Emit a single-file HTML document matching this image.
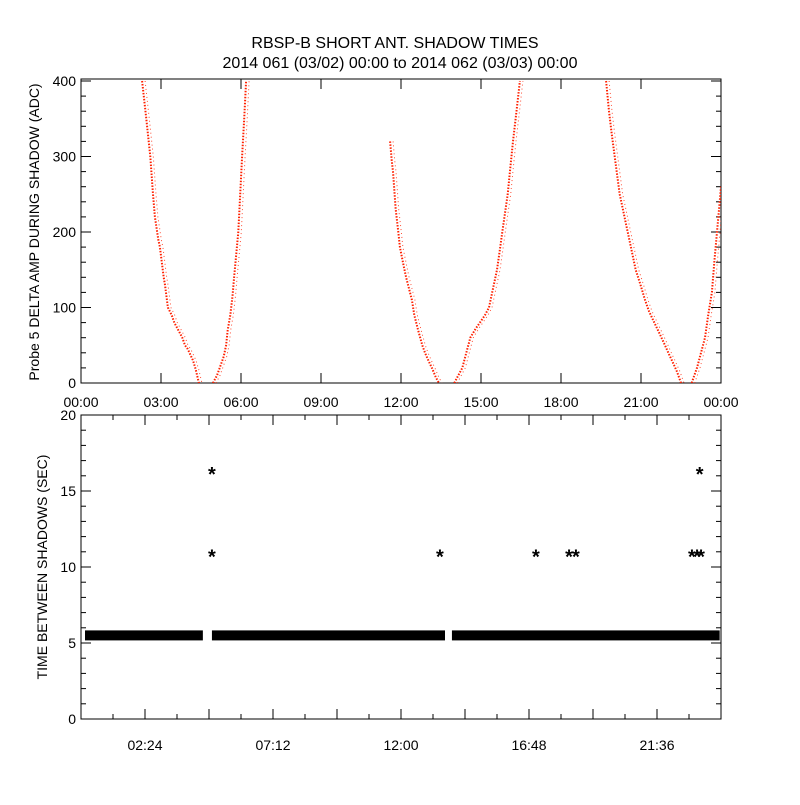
<!DOCTYPE html>
<html><head><meta charset="utf-8"><style>
body{margin:0;background:#fff}
svg text{font-family:"Liberation Sans",sans-serif;fill:#000}
</style></head><body>
<svg id="c" width="800" height="800" xmlns="http://www.w3.org/2000/svg">
<text x="395" y="48" font-size="16" text-anchor="middle">RBSP-B SHORT ANT. SHADOW TIMES</text>
<text x="400" y="68" font-size="16" text-anchor="middle">2014 061 (03/02) 00:00 to 2014 062 (03/03) 00:00</text>
<g id="topg"></g>
<g id="botg"></g>
</svg>
<script>
// Top panel data: [hour, ADC value] along each shadow branch
const arc1Down=[[2.29,400],[2.45,350],[2.6,300],[2.7,250],[2.77,220],[2.9,190],[2.96,180],[3.1,140],[3.15,130],[3.26,100],[3.4,90],[3.5,80],[3.65,70],[3.8,60],[3.9,50],[4.0,45],[4.2,30],[4.3,18],[4.42,0]];
const arc1Up=[[4.95,0],[5.1,10],[5.2,20],[5.35,35],[5.44,50],[5.5,70],[5.6,90],[5.68,115],[5.74,140],[5.82,170],[5.9,200],[5.97,250],[6.04,300],[6.12,350],[6.19,400]];
const arc2Down=[[11.59,320],[11.65,295],[11.7,280],[11.8,230],[11.9,200],[11.96,180],[12.1,155],[12.19,140],[12.3,125],[12.41,110],[12.5,90],[12.64,70],[12.8,50],[12.9,40],[13.05,28],[13.16,20],[13.3,8],[13.42,0]];
const arc2Up=[[14.0,0],[14.15,10],[14.3,20],[14.45,40],[14.6,60],[14.8,72],[14.96,80],[15.15,90],[15.3,100],[15.45,125],[15.6,150],[15.7,175],[15.8,200],[15.9,225],[16.0,250],[16.1,285],[16.2,320],[16.33,360],[16.46,400]];
const arc3Down=[[19.69,400],[19.8,360],[19.9,330],[20.05,290],[20.2,250],[20.35,225],[20.5,200],[20.65,175],[20.8,150],[21.0,128],[21.15,110],[21.3,95],[21.5,80],[21.7,65],[21.9,50],[22.05,38],[22.16,30],[22.35,15],[22.5,0]];
const arc3Up=[[22.9,0],[23.0,10],[23.1,20],[23.25,40],[23.4,60],[23.52,90],[23.66,120],[23.75,160],[23.85,200],[23.95,240],[24.0,260]];
const topXTicks=["00:00","03:00","06:00","09:00","12:00","15:00","18:00","21:00","00:00"];
const topYTicks=[0,100,200,300,400];
// Bottom panel data
const bandSegments=[[0.15,4.57],[4.91,13.65],[13.91,23.95]];
const bandValue=5.5;
const outlierHours=[4.91,4.91,13.46,17.06,18.3,18.56,22.91,23.1,23.25,23.2];
const outlierValues=[10.9,16.3,10.9,10.9,10.9,10.9,10.9,10.9,10.9,16.3];
const botXTicks=["02:24","07:12","12:00","16:48","21:36"];
const botYTicks=[0,5,10,15,20];

const NS="http://www.w3.org/2000/svg";
function mk(p,t,a){const e=document.createElementNS(NS,t);for(const k in a)e.setAttribute(k,a[k]);p.appendChild(e);return e;}
const X0=81,X1=721;
const xs=h=>X0+h/24*(X1-X0);
const T0=79,B0=383,yT=v=>383-v*(302/400);
const T1=415,B1=719,yB=v=>B1-v*(B1-T1)/20;
const topG=document.getElementById('topg'),botG=document.getElementById('botg');

let fr=mk(topG,'rect',{x:X0,y:T0,width:X1-X0,height:B0-T0,fill:'none',stroke:'#000','stroke-width':1});


for(let v=0;v<=400;v+=20){const y=yT(v);const L=v%100===0?10:5;
 mk(topG,'line',{x1:X0,x2:X0+L,y1:y,y2:y,stroke:'#000'});mk(topG,'line',{x1:X1,x2:X1-L,y1:y,y2:y,stroke:'#000'});}
topYTicks.forEach(v=>{const t=mk(topG,'text',{x:X0-5,y:yT(v)+5,'font-size':14,'text-anchor':'end'});t.textContent=v;
 
 });
topXTicks.forEach((s,i)=>{const x=xs(i*3);
 mk(topG,'line',{x1:x,x2:x,y1:B0,y2:B0-10,stroke:'#000'});mk(topG,'line',{x1:x,x2:x,y1:T0,y2:T0+10,stroke:'#000'});
 const t=mk(topG,'text',{x:x,y:407,'font-size':14,'text-anchor':'middle'});t.textContent=s;
 
 });
let yl=mk(topG,'text',{x:0,y:0,'font-size':14,'text-anchor':'middle',transform:'translate(39,232) rotate(-90)'});
yl.textContent='Probe 5 DELTA AMP DURING SHADOW (ADC)';



const cp=mk(topG,'clipPath',{id:'cp'});mk(cp,'rect',{x:X0,y:T0,width:X1-X0,height:B0-T0});
const dg=mk(topG,'g',{'clip-path':'url(#cp)'});
[arc1Down,arc1Up,arc2Down,arc2Up,arc3Down,arc3Up].forEach((arc,ai)=>{
 const pts=arc.map(p=>xs(p[0]).toFixed(1)+','+yT(p[1]).toFixed(1)).join(' ');
 const pl=mk(dg,'polyline',{points:pts,fill:'none',stroke:'#ff2000','stroke-width':2,'stroke-dasharray':'1.5 1.5'});
 
 
 const pl2=mk(dg,'polyline',{points:arc.map(p=>(xs(p[0])+3).toFixed(1)+','+yT(p[1]).toFixed(1)).join(' '),fill:'none',stroke:'#ff2000','stroke-width':1,'stroke-dasharray':'1 3',opacity:0.8});
 
 
});

let fr2=mk(botG,'rect',{x:X0,y:T1,width:X1-X0,height:B1-T1,fill:'none',stroke:'#000'});


for(let v=0;v<=20;v++){const y=yB(v);const L=v%5===0?10:5;
 mk(botG,'line',{x1:X0,x2:X0+L,y1:y,y2:y,stroke:'#000'});mk(botG,'line',{x1:X1,x2:X1-L,y1:y,y2:y,stroke:'#000'});}
botYTicks.forEach(v=>{const t=mk(botG,'text',{x:X0-5,y:yB(v)+5,'font-size':14,'text-anchor':'end'});t.textContent=v;
 
 });
for(let i=1;i<20;i++){const x=xs(i*1.2);const L=i%2===0?10:5;
 mk(botG,'line',{x1:x,x2:x,y1:B1,y2:B1-L,stroke:'#000'});mk(botG,'line',{x1:x,x2:x,y1:T1,y2:T1+L,stroke:'#000'});}
botXTicks.forEach((s,i)=>{const t=mk(botG,'text',{x:xs((i*2+1)*2.4),y:750,'font-size':14,'text-anchor':'middle'});t.textContent=s;
 
 });
let yl2=mk(botG,'text',{x:0,y:0,'font-size':14,'text-anchor':'middle',transform:'translate(47,567) rotate(-90)'});
yl2.textContent='TIME BETWEEN SHADOWS (SEC)';



bandSegments.forEach(s=>{const r=mk(botG,'rect',{x:xs(s[0]),y:yB(bandValue)-5,width:xs(s[1])-xs(s[0]),height:10,fill:'#000'});
 
 });
outlierHours.forEach((h,i)=>{const t=mk(botG,'text',{x:xs(h),y:yB(outlierValues[i])+10,'font-size':20,'text-anchor':'middle','font-weight':'bold'});
 t.textContent='*';
 
 });
</script>
</body></html>
